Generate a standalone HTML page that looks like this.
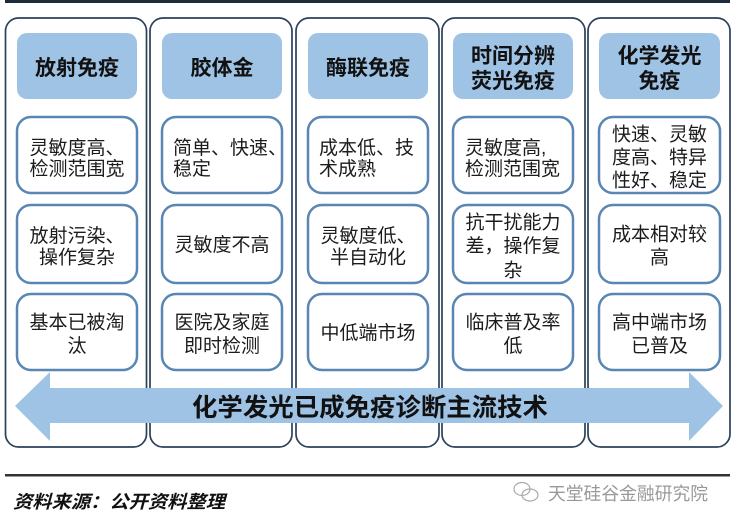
<!DOCTYPE html>
<html><head><meta charset="utf-8">
<style>
html,body{margin:0;padding:0;background:#fff;}
svg{display:block;}
text{font-family:"Liberation Sans","Noto Sans CJK SC",sans-serif;}
.h{font-size:21px;font-weight:bold;fill:#111;text-anchor:middle;}
.b{font-size:19px;fill:#1c1c1c;}
.m{text-anchor:middle;}
</style></head>
<body>
<svg width="732" height="525" viewBox="0 0 732 525" xmlns="http://www.w3.org/2000/svg">
<rect x="5" y="0" width="725" height="3" fill="#1e2b3c"/>
<!-- columns -->
<g fill="#fff" stroke="#2c4159" stroke-width="1.7">
<rect x="5.5" y="18" width="141" height="429" rx="13"/>
<rect x="150" y="18" width="142" height="429" rx="13"/>
<rect x="296" y="18" width="143" height="429" rx="13"/>
<rect x="442" y="18" width="143" height="429" rx="13"/>
<rect x="588" y="18" width="142" height="429" rx="13"/>
</g>
<!-- headers -->
<g fill="#9ec3e5">
<rect x="17" y="33" width="120" height="66" rx="10"/>
<rect x="162" y="33" width="120" height="66" rx="10"/>
<rect x="308" y="33" width="120" height="66" rx="10"/>
<rect x="453" y="33" width="120" height="66" rx="10"/>
<rect x="599" y="33" width="121" height="66" rx="10"/>
</g>
<text class="h" x="77" y="75">放射免疫</text>
<text class="h" x="222" y="75">胶体金</text>
<text class="h" x="368" y="75">酶联免疫</text>
<text class="h" x="513" y="63">时间分辨</text>
<text class="h" x="513" y="88">荧光免疫</text>
<text class="h" x="659.5" y="63">化学发光</text>
<text class="h" x="659.5" y="88">免疫</text>
<!-- text boxes -->
<g fill="#fff" stroke="#5a86b4" stroke-width="2.5">
<rect x="17" y="117" width="120" height="76" rx="14"/>
<rect x="17" y="205" width="120" height="78" rx="14"/>
<rect x="17" y="294" width="120" height="76" rx="14"/>
<rect x="162" y="117" width="120" height="76" rx="14"/>
<rect x="162" y="205" width="120" height="78" rx="14"/>
<rect x="162" y="294" width="120" height="76" rx="14"/>
<rect x="308" y="117" width="120" height="76" rx="14"/>
<rect x="308" y="205" width="120" height="78" rx="14"/>
<rect x="308" y="294" width="120" height="76" rx="14"/>
<rect x="453" y="117" width="120" height="76" rx="14"/>
<rect x="453" y="205" width="120" height="78" rx="14"/>
<rect x="453" y="294" width="120" height="76" rx="14"/>
<rect x="599" y="117" width="121" height="76" rx="14"/>
<rect x="599" y="205" width="121" height="78" rx="14"/>
<rect x="599" y="294" width="121" height="76" rx="14"/>
</g>
<!-- col1 -->
<text class="b m" x="77" y="154">灵敏度高、</text>
<text class="b m" x="77" y="175">检测范围宽</text>
<text class="b m" x="77" y="242">放射污染、</text>
<text class="b m" x="77" y="263.5">操作复杂</text>
<text class="b m" x="77" y="328.5">基本已被淘</text>
<text class="b m" x="77" y="352">汰</text>
<!-- col2 -->
<text class="b" x="173" y="154">简单、快速、</text>
<text class="b" x="173" y="175">稳定</text>
<text class="b m" x="222" y="251">灵敏度不高</text>
<text class="b m" x="222" y="328.5">医院及家庭</text>
<text class="b m" x="222" y="352">即时检测</text>
<!-- col3 -->
<text class="b" x="319" y="154">成本低、技</text>
<text class="b" x="319" y="175">术成熟</text>
<text class="b m" x="368" y="242">灵敏度低、</text>
<text class="b m" x="368" y="263.5">半自动化</text>
<text class="b m" x="368" y="339">中低端市场</text>
<!-- col4 -->
<text class="b" x="465" y="154">灵敏度高,</text>
<text class="b" x="465" y="175">检测范围宽</text>
<text class="b m" x="513" y="228.5">抗干扰能力</text>
<text class="b m" x="513" y="252">差，操作复</text>
<text class="b m" x="513" y="276.5">杂</text>
<text class="b m" x="513" y="328.5">临床普及率</text>
<text class="b m" x="513" y="352">低</text>
<!-- col5 -->
<text class="b m" x="659.5" y="140.5">快速、灵敏</text>
<text class="b m" x="659.5" y="163.5">度高、特异</text>
<text class="b m" x="659.5" y="186.5">性好、稳定</text>
<text class="b m" x="659.5" y="240.5">成本相对较</text>
<text class="b m" x="659.5" y="263.5">高</text>
<text class="b m" x="659.5" y="328.5">高中端市场</text>
<text class="b m" x="659.5" y="352">已普及</text>
<!-- arrow -->
<polygon points="15,406 50,372 50,388 689,388 689,372 723,406 689,441 689,423 50,423 50,441" fill="#9ec3e5"/>
<text x="192" y="416" font-size="25" font-weight="bold" fill="#111" textLength="356" lengthAdjust="spacingAndGlyphs">化学发光已成免疫诊断主流技术</text>
<!-- bottom line -->
<rect x="5" y="474" width="725" height="2.5" fill="#333"/>
<text x="13" y="508" font-size="18" font-weight="bold" font-style="italic" fill="#111" textLength="212" lengthAdjust="spacingAndGlyphs">资料来源：公开资料整理</text>
<!-- watermark -->
<g fill="none" stroke="#aaa" stroke-width="1.2">
<ellipse cx="522" cy="489" rx="8" ry="6.5"/>
<ellipse cx="530" cy="495" rx="8" ry="6"/>
</g>
<text x="548" y="500" font-size="18" fill="#999" textLength="160" lengthAdjust="spacingAndGlyphs">天堂硅谷金融研究院</text>
</svg>
</body></html>
